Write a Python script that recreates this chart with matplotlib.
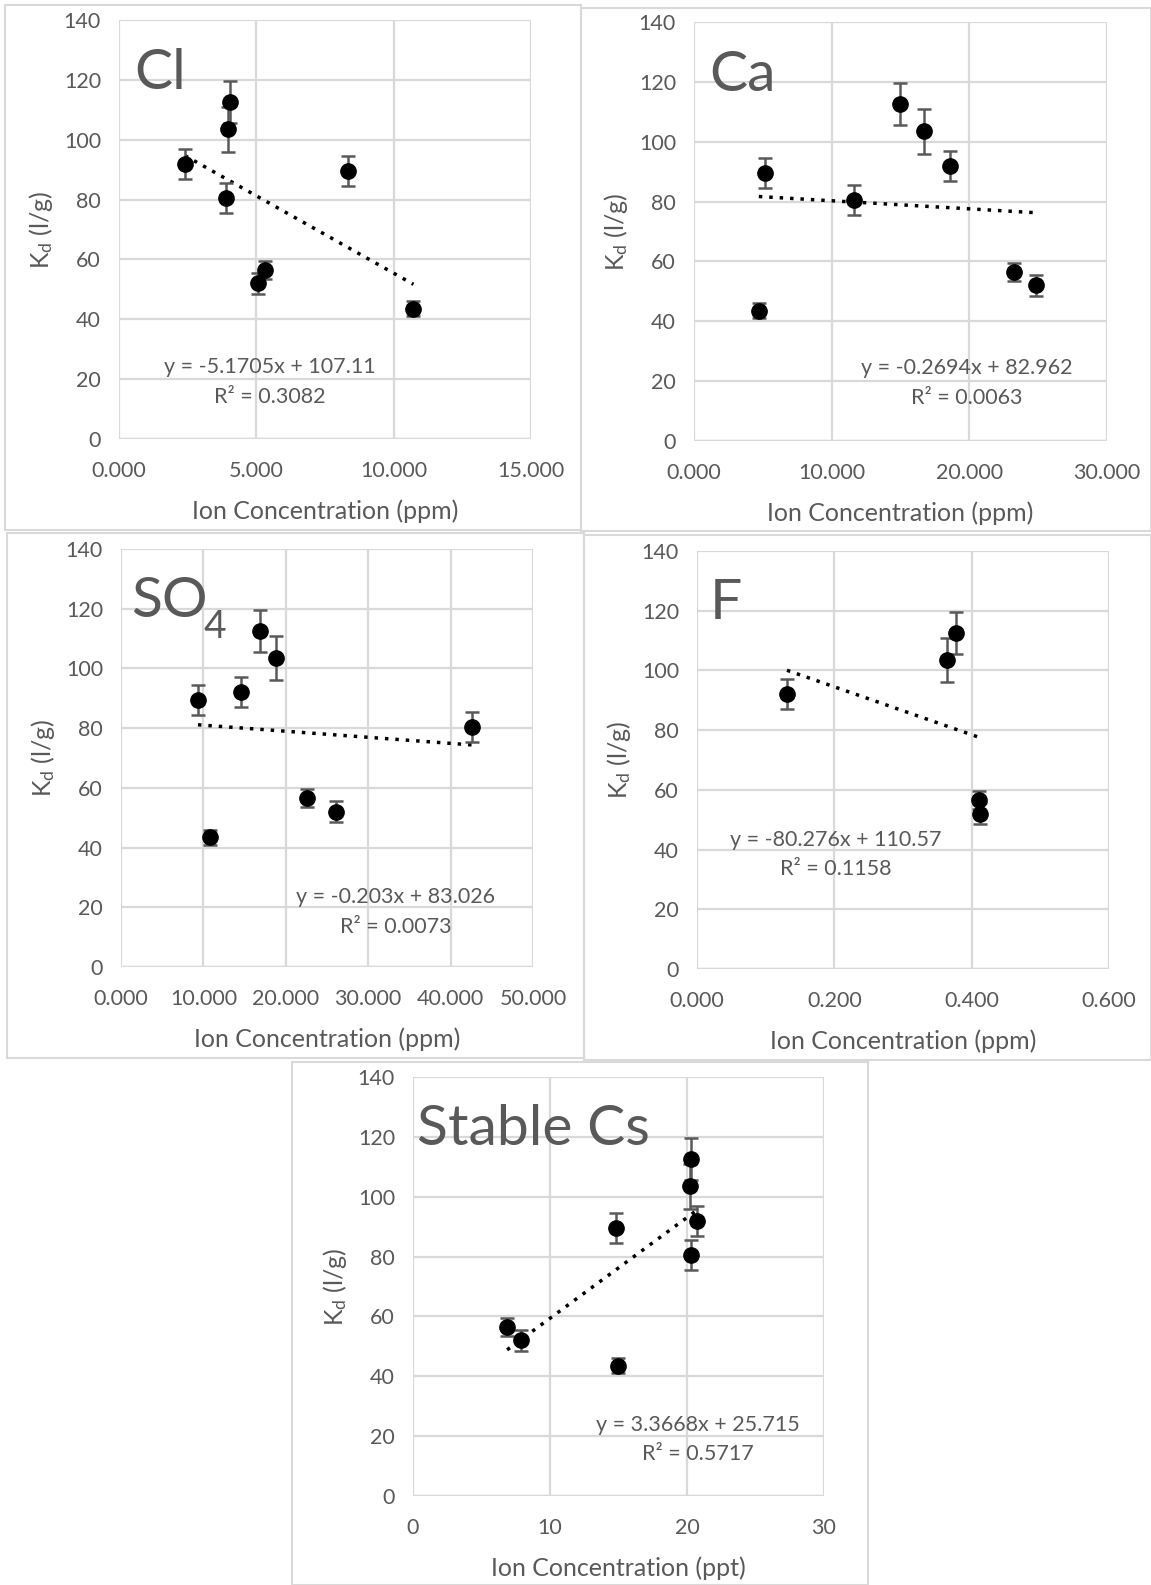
import matplotlib
matplotlib.use('Agg')
import matplotlib.pyplot as plt
from matplotlib.patches import Rectangle
from matplotlib.ticker import FixedLocator, FuncFormatter

plt.rcParams['font.family'] = ['Lato', 'DejaVu Sans']
plt.rcParams['mathtext.fontset'] = 'custom'
plt.rcParams['mathtext.rm'] = 'Lato'
plt.rcParams['mathtext.it'] = 'Lato:italic'

# Kd values (l/g) and error bars, same 8 soils in every panel
kd = [92, 112.5, 103.5, 80.5, 52, 56.5, 89.5, 43.5]
kd_err = [5, 7, 7.5, 5, 3.5, 3, 5, 2.5]

# ion concentrations per panel
cl_x = [2.40, 4.05, 3.98, 3.91, 5.05, 5.31, 8.33, 10.72]
ca_x = [18.60, 14.93, 16.69, 11.62, 24.85, 23.24, 5.15, 4.71]
so4_x = [14.62, 16.83, 18.80, 42.63, 26.04, 22.60, 9.34, 10.81]
cs_x = [20.76, 20.32, 20.25, 20.32, 7.91, 6.87, 14.85, 14.93]
# F: only five samples
f_x = [0.131, 0.377, 0.364, 0.411, 0.412]
f_kd = [92, 112.5, 103.5, 56.5, 52]
f_err = [5, 7, 7.5, 3, 3.5]

# trend line fits (slope, intercept, R2) as printed on the chart
fits = {
    'Cl': (-5.1705, 107.11, '0.3082'),
    'Ca': (-0.2694, 82.962, '0.0063'),
    'SO4': (-0.203, 83.026, '0.0073'),
    'F': (-80.276, 110.57, '0.1158'),
    'Cs': (3.3668, 25.715, '0.5717'),
}
eq_text = {
    'Cl': 'y = -5.1705x + 107.11',
    'Ca': 'y = -0.2694x + 82.962',
    'SO4': 'y = -0.203x + 83.026',
    'F': 'y = -80.276x + 110.57',
    'Cs': 'y = 3.3668x + 25.715',
}

W, H = 1151, 1585
fig = plt.figure(figsize=(W / 100, H / 100), dpi=100)
gray = '#595959'
grid = '#d9d9d9'


def px_axes(x0, y0, x1, y1):
    return fig.add_axes([x0 / W, 1 - y1 / H, (x1 - x0) / W, (y1 - y0) / H])


def box(x0, y0, x1, y1):
    fig.patches.append(Rectangle((x0 / W, 1 - y1 / H), (x1 - x0) / W, (y1 - y0) / H,
                                 transform=fig.transFigure, fill=False,
                                 edgecolor=grid, lw=1.5))


def panel(ax, x, y, err, key, xmax, xstep, xfmt, xunit, title, tpos, eqpos):
    for s in ax.spines.values():
        s.set_visible(False)
    ax.set_xlim(0, xmax)
    ax.set_ylim(0, 140)
    xt = [i * xstep for i in range(int(round(xmax / xstep)) + 1)]
    ax.xaxis.set_major_locator(FixedLocator(xt))
    ax.xaxis.set_major_formatter(FuncFormatter(lambda v, p: xfmt.format(v)))
    ax.yaxis.set_major_locator(FixedLocator(range(0, 141, 20)))
    ax.grid(True, color=grid, lw=1.6, zorder=0)
    ax.axhline(0, color='#bfbfbf', lw=1.6, zorder=1)
    ax.tick_params(length=0, labelsize=15.5, labelcolor=gray)
    ax.tick_params(axis='x', pad=16)
    ax.tick_params(axis='y', pad=13)
    ax.set_xlabel('Ion Concentration (%s)' % xunit, fontsize=18, color=gray, labelpad=13)
    ax.set_ylabel(r'$\mathregular{K_d}$ (l/g)', fontsize=18, color=gray, labelpad=6)

    ax.errorbar(x, y, yerr=err, fmt='o', color='black', ms=11,
                ecolor=gray, elinewidth=1.8, capsize=5, capthick=1.8, zorder=3)

    m, b, r2 = fits[key]
    xs = [min(x), max(x)]
    ax.plot(xs, [m * v + b for v in xs], color='black', lw=2.5,
            linestyle=(0, (1, 2)), zorder=2)

    ax.text(eqpos[0], eqpos[1], eq_text[key], ha='center', va='center',
            fontsize=15.5, color=gray, zorder=4)
    ax.text(eqpos[0], eqpos[2], 'R\u00b2 = ' + r2, ha='center', va='center',
            fontsize=15.5, color=gray, zorder=4)

    t = ax.text(tpos[0], tpos[1], title, ha='left', va='baseline',
                fontsize=41, color=gray, zorder=4)
    return t


# panel frames
box(5, 5, 581, 530)
box(581, 8, 1151, 531)
box(7, 533, 584, 1058)
box(584, 535, 1151, 1060)
box(292, 1062, 868, 1585)

ax1 = px_axes(119, 20, 531, 439)
panel(ax1, cl_x, kd, kd_err, 'Cl', 15, 5, '{:.3f}', 'ppm', 'Cl',
      (0.55, 117), (5.5, 24, 14.2))

ax2 = px_axes(694, 22, 1107, 441)
panel(ax2, ca_x, kd, kd_err, 'Ca', 30, 10, '{:.3f}', 'ppm', 'Ca',
      (1.1, 117), (19.8, 24.3, 14.5))

ax3 = px_axes(121, 549, 533, 967)
t = panel(ax3, so4_x, kd, kd_err, 'SO4', 50, 10, '{:.3f}', 'ppm', 'SO',
          (1.2, 117.3), (33.3, 23.3, 13.5))
ax3.annotate('4', xy=(1, 0), xycoords=t, xytext=(-3, -8), textcoords='offset points',
             ha='left', va='baseline', fontsize=28, color=gray)

ax4 = px_axes(697, 551, 1109, 969)
panel(ax4, f_x, f_kd, f_err, 'F', 0.6, 0.2, '{:.3f}', 'ppm', 'F',
      (0.019, 117.3), (0.202, 43.3, 33.5))

ax5 = px_axes(413, 1077, 824, 1496)
panel(ax5, cs_x, kd, kd_err, 'Cs', 30, 10, '{:.0f}', 'ppt', 'Stable Cs',
      (0.3, 117.3), (20.8, 23.7, 14.2))

fig.savefig('out.png', dpi=100)
